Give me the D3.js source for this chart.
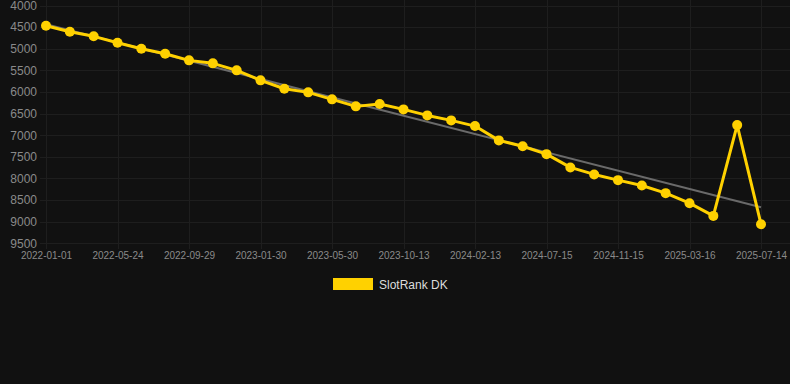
<!DOCTYPE html>
<html>
<head>
<meta charset="utf-8">
<script src="https://cdn.jsdelivr.net/npm/d3@7"></script>
<style>
  html, body { margin: 0; padding: 0; background: #111111; }
  svg { display: block; }
  text { font-family: "Liberation Sans", Arial, sans-serif; }
</style>
</head>
<body>
<svg id="chart"></svg>
<script>
// Data
var tickLabels = ['2022-01-01', '2022-05-24', '2022-09-29', '2023-01-30', '2023-05-30',
    '2023-10-13', '2024-02-13', '2024-07-15', '2024-11-15', '2025-03-16', '2025-07-14'];
var rankValues = [4467, 4606, 4713, 4861, 5000, 5116, 5269, 5338, 5500, 5731,
    5926, 6009, 6171, 6333, 6280, 6403, 6542, 6657, 6789, 7120,
    7255, 7438, 7745, 7907, 8039, 8162, 8340, 8572, 8866, 6766, 9058];
var yTicks = [4000, 4500, 5000, 5500, 6000, 6500, 7000, 7500, 8000, 8500, 9000, 9500];
var seriesName = 'SlotRank DK';

var width = 790, height = 384;
var lineColor = '#ffd100';
var gridColor = '#1e1e1e';

var svg = d3.select('#chart')
    .attr('width', width)
    .attr('height', height);

svg.append('rect')
    .attr('width', width)
    .attr('height', height)
    .attr('fill', '#111111');

var idx = d3.range(rankValues.length);
var xScale = d3.scalePoint()
    .domain(idx)
    .range([46, 761]);
var yScale = d3.scaleLinear()
    .domain([4000, 9500])
    .range([5.5, 243.3]);

// every third point carries a date label
var tickIdx = tickLabels.map(function (d, i) { return i * 3; });

// horizontal grid
svg.append('g')
    .selectAll('line')
    .data(yTicks)
    .enter().append('line')
    .attr('x1', 40)
    .attr('x2', width)
    .attr('y1', function (d) { return Math.round(yScale(d)) + 0.5; })
    .attr('y2', function (d) { return Math.round(yScale(d)) + 0.5; })
    .attr('stroke', gridColor)
    .attr('stroke-width', 1);

// vertical grid
svg.append('g')
    .selectAll('line')
    .data(tickIdx)
    .enter().append('line')
    .attr('x1', function (d) { return Math.round(xScale(d)) + 0.5; })
    .attr('x2', function (d) { return Math.round(xScale(d)) + 0.5; })
    .attr('y1', 0)
    .attr('y2', 249)
    .attr('stroke', gridColor)
    .attr('stroke-width', 1);

// y axis labels
var yAxis = svg.append('g')
    .attr('transform', 'translate(37,0)')
    .call(d3.axisLeft(yScale).tickValues(yTicks).tickFormat(d3.format('d')).tickSize(0).tickPadding(0));
yAxis.select('.domain').remove();
yAxis.selectAll('text')
    .attr('fill', '#8a8a8a')
    .style('font-size', '12px')
    .style('font-family', '"Liberation Sans", Arial, sans-serif');

// x axis labels
var xAxis = svg.append('g')
    .attr('transform', 'translate(0,252)')
    .call(d3.axisBottom(xScale)
        .tickValues(tickIdx)
        .tickFormat(function (d) { return tickLabels[d / 3]; })
        .tickSize(0)
        .tickPadding(0));
xAxis.select('.domain').remove();
xAxis.selectAll('text')
    .attr('fill', '#8a8a8a')
    .style('font-size', '10px')
    .style('font-family', '"Liberation Sans", Arial, sans-serif');

// linear trend (least squares over the series)
var n = rankValues.length;
var mx = d3.mean(idx), my = d3.mean(rankValues);
var slope = d3.sum(idx, function (i) { return (i - mx) * (rankValues[i] - my); }) /
    d3.sum(idx, function (i) { return (i - mx) * (i - mx); });
var trend = [0, n - 1].map(function (i) { return { i: i, v: my + slope * (i - mx) }; });

svg.append('path')
    .datum(trend)
    .attr('fill', 'none')
    .attr('stroke', '#6a6a6a')
    .attr('stroke-width', 2)
    .attr('d', d3.line()
        .x(function (d) { return xScale(d.i); })
        .y(function (d) { return yScale(d.v); }));

// main series
svg.append('path')
    .datum(rankValues)
    .attr('fill', 'none')
    .attr('stroke', lineColor)
    .attr('stroke-width', 3)
    .attr('stroke-linejoin', 'round')
    .attr('d', d3.line()
        .x(function (d, i) { return xScale(i); })
        .y(function (d) { return yScale(d); }));

svg.append('g')
    .selectAll('circle')
    .data(rankValues)
    .enter().append('circle')
    .attr('cx', function (d, i) { return xScale(i); })
    .attr('cy', function (d) { return yScale(d); })
    .attr('r', 5)
    .attr('fill', lineColor);

// legend
var legend = svg.append('g').attr('transform', 'translate(333,278)');
legend.append('rect')
    .attr('width', 40)
    .attr('height', 12)
    .attr('fill', lineColor);
legend.append('text')
    .attr('x', 46)
    .attr('y', 10.5)
    .attr('fill', '#dddddd')
    .style('font-size', '12px')
    .text(seriesName);
</script>
</body>
</html>
